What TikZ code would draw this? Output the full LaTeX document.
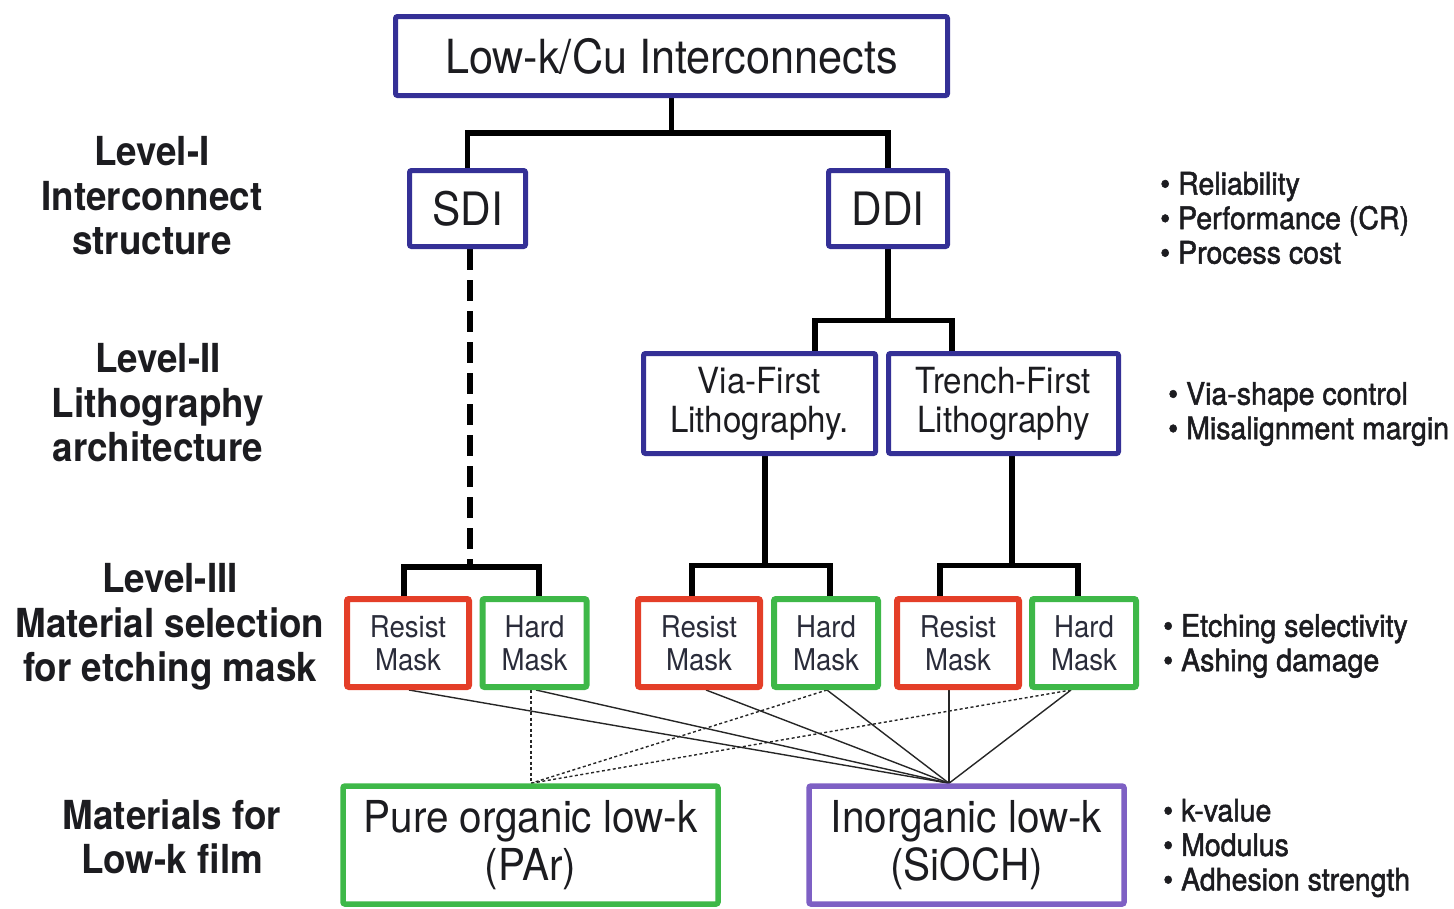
\documentclass[tikz,border=0pt]{standalone}
\usepackage{fontspec}
\setmainfont[FakeStretch=0.92]{TeX Gyre Heros}
\newfontfamily\notefont[FakeStretch=0.92, FakeBold=1.6]{TeX Gyre Heros}
\usetikzlibrary{backgrounds}
\definecolor{boxblue}{RGB}{52,48,150}
\definecolor{boxred}{RGB}{228,62,40}
\definecolor{boxgreen}{RGB}{62,184,72}
\definecolor{boxpurple}{RGB}{126,96,196}
\definecolor{ink}{RGB}{28,28,32}
\definecolor{softink}{RGB}{42,44,58}
\begin{document}
\begin{tikzpicture}[x=1pt,y=-1pt,
  boxbase/.style={draw, fill=white, rounded corners=2pt, inner sep=0pt, align=center, text=ink},
  bluebox/.style={boxbase, draw=boxblue, line width=5pt},
  maskbox/.style={boxbase, line width=6pt, minimum height=88pt, text=softink, font=\fontsize{30}{33}\selectfont},
  resistbox/.style={maskbox, draw=boxred, minimum width=122pt},
  hardbox/.style={maskbox, draw=boxgreen, minimum width=104pt},
  filmbox/.style={boxbase, line width=5.5pt, minimum height=118pt, font=\fontsize{44}{48}\selectfont},
  tree/.style={line width=5.5pt, black},
  treedash/.style={tree, dash pattern=on 21pt off 10pt},
  link/.style={line width=1.4pt, black!85},
  linkdash/.style={link, dash pattern=on 3pt off 2.5pt},
  level/.style={font=\bfseries\fontsize{40}{44.5}\selectfont, align=center, text=ink, inner sep=0pt},
  note/.style={font=\notefont\fontsize{31}{34.5}\selectfont, align=left, anchor=west, text=ink, inner sep=0pt}
]
\useasboundingbox (0,0) rectangle (1454,908);

% --- boxes of the tree ---
\node[bluebox, minimum width=552pt, minimum height=79pt, font=\fontsize{47}{52}\selectfont] (top) at (671.5,56) {Low-k/Cu Interconnects};
\node[bluebox, minimum width=116pt, minimum height=76pt, font=\fontsize{46}{50}\selectfont] (sdi) at (467.5,208.5) {SDI};
\node[bluebox, minimum width=119pt, minimum height=76pt, font=\fontsize{46}{50}\selectfont] (ddi) at (888,208.5) {DDI};
\node[bluebox, minimum width=232pt, minimum height=100pt, font=\fontsize{36}{39}\selectfont] (via) at (759.5,403.5) {Via-First\\Lithography.};
\node[bluebox, minimum width=230pt, minimum height=100pt, font=\fontsize{36}{39}\selectfont] (trench) at (1003.5,403.5) {Trench-First\\Lithography};

\node[resistbox] (r1) at (408,643) {Resist\\Mask};
\node[hardbox]   (h1) at (534.5,643) {Hard\\Mask};
\node[resistbox] (r2) at (699,643) {Resist\\Mask};
\node[hardbox]   (h2) at (826,643) {Hard\\Mask};
\node[resistbox] (r3) at (958,643) {Resist\\Mask};
\node[hardbox]   (h3) at (1084,643) {Hard\\Mask};

\node[filmbox, draw=boxgreen, minimum width=375pt] (pure) at (530.5,845) {Pure organic low-k\\(PAr)};
\node[filmbox, draw=boxpurple, minimum width=315pt] (inorg) at (966.5,845) {Inorganic low-k\\(SiOCH)};

% --- level labels ---
\node[level] (lv1) at (152,196) {Level-I\\Interconnect\\structure};
\node[level] (lv2) at (158,403) {Level-II\\Lithography\\architecture};
\node[level] (lv3) at (170,627) {Level-III\\Material selection\\for etching mask};
\node[level] (lv4) at (172,837) {Materials for\\Low-k film};

% --- criteria lists ---
\node[note] (n1) at (1160,218) {• Reliability\\• Performance (CR)\\• Process cost};
\node[note] (n2) at (1168,414) {• Via-shape control\\• Misalignment margin};
\node[note] (n3) at (1163,646) {• Etching selectivity\\• Ashing damage};
\node[note] (n4) at (1163,848) {• k-value\\• Modulus\\• Adhesion strength};

% --- junctions ---
\coordinate (apex) at ([xshift=-17.5pt]inorg.north);
\coordinate (porg) at ([xshift=0.5pt]pure.north);

\begin{scope}[on background layer]
  % level I
  \draw[tree] (top.south) -- ++(0,35) -| (sdi.north);
  \draw[tree] (top.south) -- ++(0,35) -| (ddi.north);
  % level II
  \coordinate (j1) at ([xshift=2.5pt]sdi.south |- 0,567);
  \draw[treedash] ([xshift=2.5pt]sdi.south) -- (j1);
  \draw[tree] ([xshift=-4pt]r1.north) |- ([xshift=4.5pt]h1.north |- j1) -- ([xshift=4.5pt]h1.north);
  \draw[tree] (ddi.south) -- ++(0,71.5) coordinate (j2);
  \draw[tree] ([xshift=55.5pt]via.north) |- ([xshift=-51.5pt]trench.north |- j2) -- ([xshift=-51.5pt]trench.north);
  % level III
  \draw[tree] ([xshift=5.5pt]via.south) -- ++(0,109.5) coordinate (j3);
  \draw[tree] ([xshift=-7pt]r2.north) |- ([xshift=4pt]h2.north |- j3) -- ([xshift=4pt]h2.north);
  \draw[tree] ([xshift=8.5pt]trench.south) -- ++(0,109.5) coordinate (j4);
  \draw[tree] ([xshift=-18pt]r3.north) |- ([xshift=-6pt]h3.north |- j4) -- ([xshift=-6pt]h3.north);
  % mask to film
  \draw[link] ([xshift=1pt]r1.south) -- (apex);
  \draw[link] ([xshift=1.5pt]h1.south) -- (apex);
  \draw[link] ([xshift=7pt]r2.south) -- (apex);
  \draw[link] ([xshift=1pt]h2.south) -- (apex);
  \draw[link] ([xshift=-9pt]r3.south) -- (apex);
  \draw[link] ([xshift=-13pt]h3.south) -- (apex);
  \draw[linkdash] ([xshift=-3.5pt]h1.south) -- (porg);
  \draw[linkdash] ([xshift=1pt]h2.south) -- (porg);
  \draw[linkdash] ([xshift=-13pt]h3.south) -- (porg);
\end{scope}
\end{tikzpicture}
\end{document}
